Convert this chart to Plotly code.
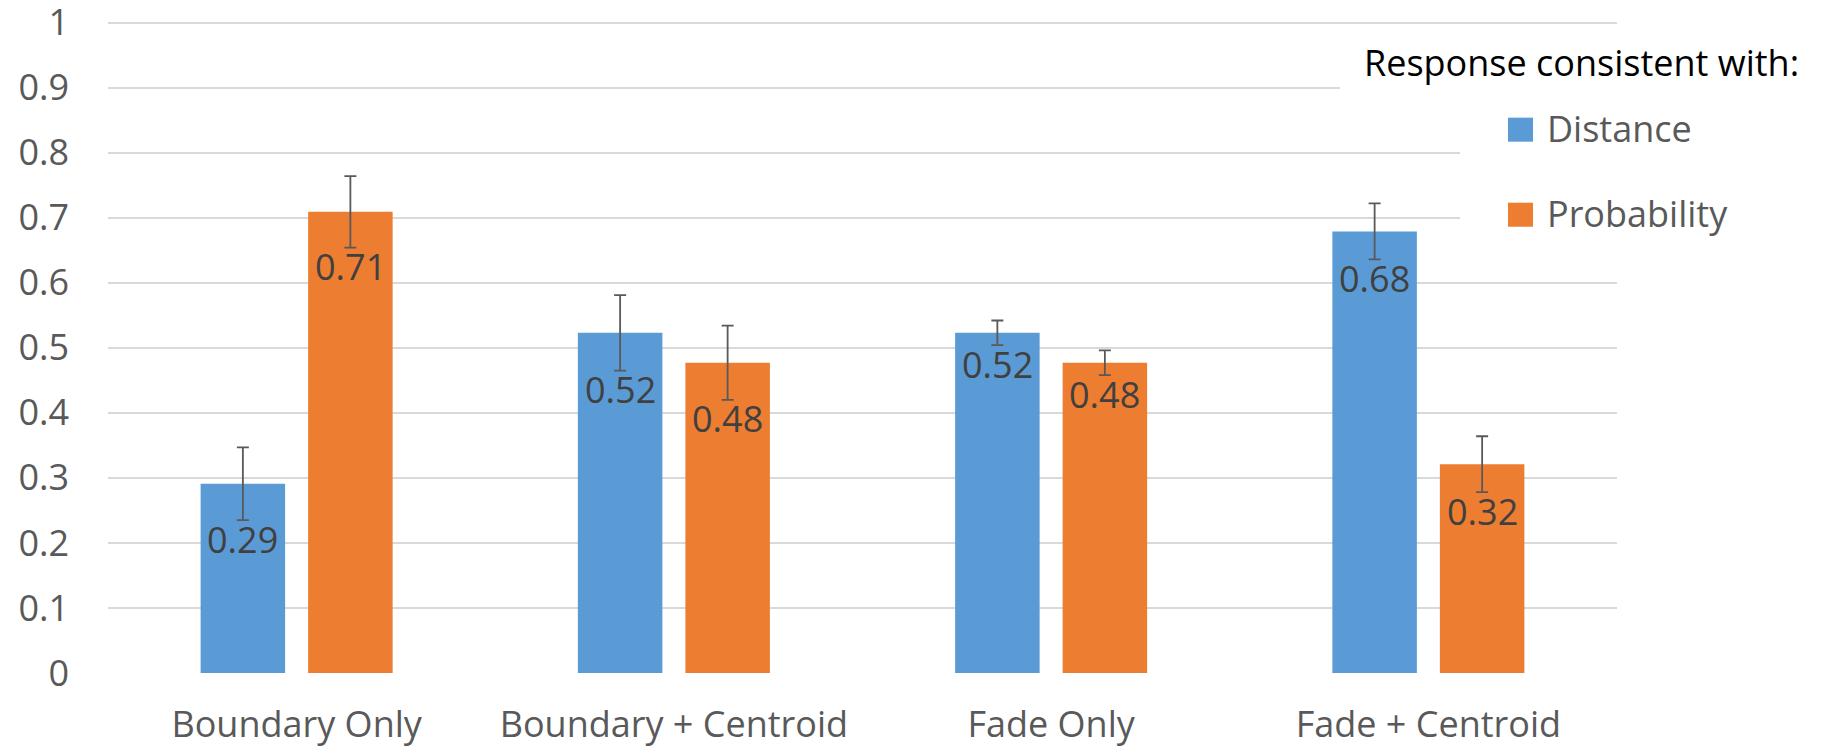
import plotly.graph_objects as go

# ---- data ----
categories = ["Boundary Only", "Boundary + Centroid", "Fade Only", "Fade + Centroid"]
series_names = ["Distance", "Probability"]
distance = [0.291, 0.523, 0.523, 0.679]
probability = [0.709, 0.477, 0.477, 0.321]
distance_err = [0.056, 0.058, 0.019, 0.043]
probability_err = [0.055, 0.057, 0.019, 0.043]
y_ticks = [0, 0.1, 0.2, 0.3, 0.4, 0.5, 0.6, 0.7, 0.8, 0.9, 1]
legend_title = "Response consistent with:"

# ---- style ----
BLUE = "#5B9BD5"
ORANGE = "#ED7D31"
GRID = "#D9D9D9"
TXT = "#595959"
LBL = "#404040"
FONT = "Open Sans"
FS = 36

W, H = 1823, 748
UNIT = 650.0          # pixels per 1.0 on the y axis
YMAX = 1.004          # small headroom so the gridline at 1 is kept
PL, PR, PB = 108, 1617, 673
PT = PB - UNIT * YMAX


def px(xp):
    return (xp - PL) / (PR - PL)


def py(yp):
    return (PB - yp) / (PB - PT)


BW = 0.224   # bar width (category units)
GAP = 0.061  # gap between the two bars of a group

idx = list(range(len(categories)))
series = [
    (series_names[0], distance, distance_err, BLUE, -(BW + GAP / 2)),
    (series_names[1], probability, probability_err, ORANGE, GAP / 2),
]

fig = go.Figure()
annotations = []
for name, vals, errs, col, off in series:
    fig.add_bar(
        x=idx, y=vals, name=name, width=BW, offset=off,
        marker=dict(color=col, line=dict(width=0)),
        error_y=dict(type="data", array=errs, color=TXT, thickness=1.8, width=6),
        showlegend=False, hoverinfo="skip",
    )
    for i, v, e in zip(idx, vals, errs):
        annotations.append(dict(
            x=i + off + BW / 2, y=v - e, xref="x", yref="y",
            text=f"{v:.2f}", showarrow=False, xanchor="center", yanchor="middle",
            yshift=-19, font=dict(family=FONT, size=FS, color=LBL),
        ))

# legend (manual, Excel-like with white background over the grid)
shapes = [
    dict(type="rect", xref="paper", yref="paper", x0=px(1340), x1=px(1823),
         y0=py(118), y1=py(35), fillcolor="white", line=dict(width=0), layer="above"),
    dict(type="rect", xref="paper", yref="paper", x0=px(1460), x1=px(1823),
         y0=py(250), y1=py(118), fillcolor="white", line=dict(width=0), layer="above"),
]
annotations.append(dict(
    x=px(1362), y=py(63), xref="paper", yref="paper", text=legend_title,
    showarrow=False, xanchor="left", yanchor="middle",
    font=dict(family=FONT, size=FS, color="#000000"),
))
for k, (name, _, _, col, _) in enumerate(series):
    cy = 130 + 85 * k
    shapes.append(dict(type="rect", xref="paper", yref="paper",
                       x0=px(1508), x1=px(1533), y0=py(cy + 12), y1=py(cy - 12),
                       fillcolor=col, line=dict(width=0), layer="above"))
    annotations.append(dict(
        x=px(1545), y=py(cy - 1), xref="paper", yref="paper", text=name,
        showarrow=False, xanchor="left", yanchor="middle",
        font=dict(family=FONT, size=FS, color=TXT),
    ))

fig.update_layout(
    template="none",
    width=W, height=H,
    margin=dict(l=PL, r=W - PR, t=PT, b=H - PB, pad=0),
    paper_bgcolor="white", plot_bgcolor="white",
    barmode="group",
    showlegend=False,
    font=dict(family=FONT, size=FS, color=TXT),
    xaxis=dict(
        range=[-0.5, len(categories) - 0.5],
        tickmode="array", tickvals=idx, ticktext=categories,
        showgrid=False, zeroline=False, showline=False, ticks="",
        tickfont=dict(family=FONT, size=FS, color=TXT),
        ticklabelstandoff=27, ticklabeloverflow="allow", fixedrange=True,
    ),
    yaxis=dict(
        range=[0, YMAX], tickmode="array", tickvals=y_ticks,
        ticktext=[f"{t:g}" for t in y_ticks],
        showgrid=True, gridcolor=GRID, gridwidth=1.6,
        zeroline=False, showline=False, ticks="",
        tickfont=dict(family=FONT, size=FS, color=TXT),
        ticklabelstandoff=38, ticklabeloverflow="allow", fixedrange=True,
    ),
    shapes=shapes,
    annotations=annotations,
)

fig.write_html(
    "out.html",
    config={"displayModeBar": False},
    post_script="document.body.style.margin='0';document.body.style.overflow='hidden';",
)
